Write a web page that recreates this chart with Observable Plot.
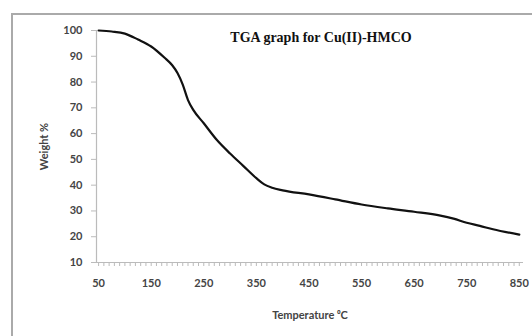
<!DOCTYPE html>
<html>
<head>
<meta charset="utf-8">
<script src="https://cdn.jsdelivr.net/npm/d3@7"></script>
<script src="https://cdn.jsdelivr.net/npm/@observablehq/plot@0.6"></script>
<style>
  html, body { margin: 0; padding: 0; background: #fff; }
  #wrap { position: relative; width: 532px; height: 336px; overflow: hidden; }
  #frame { position: absolute; left: 11px; top: 13px; width: 560px; height: 360px;
           border-left: 2px solid #aaa; border-top: 2px solid #aaa; pointer-events: none; }
  #chart { position: absolute; left: 0; top: 0; }
</style>
</head>
<body>
<div id="wrap"><div id="chart"></div><div id="frame"></div></div>
<script>
const title = "TGA graph for Cu(II)-HMCO";
const xLabel = "Temperature \u2070C";
const yLabel = "Weight %";
const temperature = [50, 75, 100, 125, 150, 175, 190, 200, 210, 220, 230, 250, 275, 300, 325, 350, 365, 380, 400, 450, 500, 550, 600, 650, 700, 725, 750, 775, 800, 850];
const weight = [100, 99.6, 98.8, 96.5, 93.8, 89.5, 86.5, 83.5, 79, 73, 69.2, 64, 57.5, 52.3, 47.5, 42.7, 40.3, 39, 38, 36.4, 34.5, 32.5, 31, 29.7, 28.2, 27, 25.4, 24.2, 22.9, 20.8];
const xTicks = [50, 150, 250, 350, 450, 550, 650, 750, 850];
const yTicks = [10, 20, 30, 40, 50, 60, 70, 80, 90, 100];
const xMinorTicks = d3.range(50, 851, 10);

const data = temperature.map((t, i) => ({t, w: weight[i]}));

const chart = Plot.plot({
  width: 532,
  height: 336,
  marginLeft: 96,
  marginRight: 9,
  marginTop: 30,
  marginBottom: 74,
  style: {fontFamily: "Lato, sans-serif", background: "transparent"},
  x: {domain: [46, 858]},
  y: {domain: [10, 100]},
  marks: [
    Plot.ruleY([10], {stroke: "#bbb", strokeWidth: 1.2}),
    Plot.ruleX([46], {stroke: "#bbb", strokeWidth: 1.2}),
    Plot.axisX(xMinorTicks, {tickSize: 4, stroke: "#bbb", text: null, label: null}),
    Plot.axisX(xTicks, {tickSize: 0, tickPadding: 17, fontSize: 11, fontWeight: "bold", fill: "#444",
      label: xLabel, labelAnchor: "center", labelArrow: "none", labelOffset: 56}),
    Plot.axisY(yTicks, {tickSize: 5, tickPadding: 9, stroke: "#bbb", fontSize: 11, fontWeight: "bold", fill: "#444",
      label: yLabel, labelAnchor: "center", labelArrow: "none", labelOffset: 56}),
    Plot.line(data, {x: "t", y: "w", stroke: "#111", strokeWidth: 2.2, curve: "monotone-x"}),
    Plot.text([title], {frameAnchor: "top", dx: 11, dy: 7, text: d => d, lineAnchor: "middle",
      fontFamily: "Liberation Serif, serif", fontWeight: "bold", fontSize: 14, fill: "#111"})
  ]
});
document.getElementById("chart").appendChild(chart);
</script>
</body>
</html>
